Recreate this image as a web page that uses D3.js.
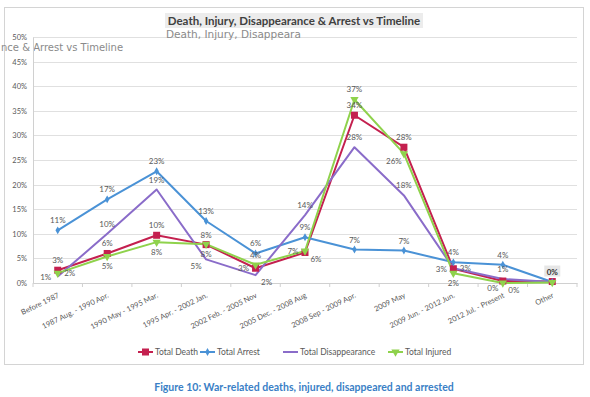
<!DOCTYPE html>
<html>
<head>
<meta charset="utf-8">
<script src="https://cdn.jsdelivr.net/npm/d3@7"></script>
<style>
  body { margin: 0; background: #fff; }
  svg { display: block; font-family: Lato, "Open Sans", sans-serif; }
</style>
</head>
<body>
<div id="chart"></div>
<script>
// categories (time periods)
const categories = ["Before 1987", "1987 Aug. - 1990 Apr.", "1990 May - 1995 Mar.", "1995 Apr. - 2002 Jan.",
  "2002 Feb. - 2005 Nov", "2005 Dec. - 2008 Aug", "2008 Sep - 2009 Apr.", "2009 May",
  "2009 Jun. - 2012 Jun.", "2012 Jul. - Present", "Other"]

// values in %
const deathPct = [2.6, 6.0, 9.7, 7.8, 3.0, 6.2, 34.1, 27.6, 2.9, 0.4, 0.3]
const arrestPct = [10.7, 17.0, 22.7, 12.6, 6.0, 9.3, 6.8, 6.6, 4.2, 3.7, 0.2]
const disappPct = [1.3, 10.0, 19.0, 4.8, 1.6, 13.8, 27.6, 17.8, 3.0, 0.8, 0.2]
const injuredPct = [2.0, 5.4, 8.3, 7.9, 3.7, 6.5, 37.3, 26.3, 2.0, 0.0, 0.1]

const yTicks = [0, 5, 10, 15, 20, 25, 30, 35, 40, 45, 50]

// where the data labels sit (t=top, b=bottom, l=left, r=right...)
const deathLbl = ["t", "t", "t", "t", "l", "br", "t", "t", "l", "bl", "box"]
const arrestLbl = ["t", "t", "t", "t", "t", "t", "t", "t", "t", "t", "none"]
const disappLbl = ["l", "t", "t", "bl", "br", "t", "t", "t", "r", "t", "none"]
const injuredLbl = ["r", "b", "b", "b", "t", "l", "t", "bl", "b", "br", "none"]

const series = [
  {name: "Total Death", values: deathPct, lbl: deathLbl, color: "#c4204f", marker: "square"},
  {name: "Total Arrest", values: arrestPct, lbl: arrestLbl, color: "#4a92d6", marker: "diamond"},
  {name: "Total Disappearance", values: disappPct, lbl: disappLbl, color: "#8a6cc9", marker: "none"},
  {name: "Total Injured", values: injuredPct, lbl: injuredLbl, color: "#8fd24c", marker: "triangle"}
]

const W = 590, H = 397
const margin = {top: 37, right: 13, bottom: 114, left: 33}

const svg = d3.select("#chart").append("svg")
  .attr("width", W).attr("height", H)

// chart frame
svg.append("rect")
  .attr("x", 4.5).attr("y", 7.5).attr("width", 579).attr("height", 357)
  .attr("fill", "#fff").attr("stroke", "#d4d4d4")

const x = d3.scaleBand().domain(categories).range([margin.left, W - margin.right])
const y = d3.scaleLinear().domain([0, 50]).range([H - margin.bottom, margin.top])
const cx = d => x(d) + x.bandwidth() / 2

// gridlines
svg.append("g").selectAll("line").data(yTicks).join("line")
  .attr("x1", margin.left).attr("x2", W - margin.right)
  .attr("y1", d => Math.round(y(d)) + 0.5).attr("y2", d => Math.round(y(d)) + 0.5)
  .attr("stroke", "#e0e0e0")

// ghost texts (artifacts of the original image)
svg.append("text").attr("x", 1).attr("y", 51).attr("font-size", 10).attr("fill", "#8a8a8a")
  .attr("font-family", "DejaVu Sans").text("nce & Arrest  vs Timeline")
svg.append("text").attr("x", 166).attr("y", 38).attr("font-size", 10.5).attr("fill", "#8a8a8a")
  .attr("font-family", "DejaVu Sans").text("Death, Injury, Disappeara")

// y axis
const yAxis = svg.append("g")
  .attr("transform", "translate(" + margin.left + ",0)")
  .call(d3.axisLeft(y).tickValues(yTicks).tickSize(0).tickPadding(6).tickFormat(d => d + "%"))
yAxis.select(".domain").attr("stroke", "#d0d0d0")
yAxis.selectAll("text").attr("font-size", 7.5).attr("fill", "#595959").attr("font-family", "Lato")

// x axis
const xAxis = svg.append("g")
  .attr("transform", "translate(0," + (H - margin.bottom) + ")")
  .call(d3.axisBottom(x).tickSize(0).tickFormat(""))
xAxis.select(".domain").attr("stroke", "#d0d0d0")
svg.append("g").selectAll("line").data(categories.concat(["end"])).join("line")
  .attr("x1", (d, i) => margin.left + i * x.bandwidth()).attr("x2", (d, i) => margin.left + i * x.bandwidth())
  .attr("y1", H - margin.bottom).attr("y2", H - margin.bottom + 4)
  .attr("stroke", "#d0d0d0")

svg.append("g").selectAll("text").data(categories).join("text")
  .attr("transform", d => "translate(" + (cx(d) + 2) + "," + (H - margin.bottom + 14) + ") rotate(-26)")
  .attr("text-anchor", "end")
  .attr("font-size", 7.5).attr("fill", "#595959")
  .text(d => d)

// title
const title = "Death, Injury, Disappearance & Arrest  vs Timeline"
svg.append("rect").attr("x", 165).attr("y", 13).attr("width", 258).attr("height", 15).attr("fill", "#ececec")
svg.append("text").attr("x", 294).attr("y", 24.5).attr("text-anchor", "middle")
  .attr("font-size", 11.5).attr("font-weight", "bold").attr("fill", "#404040").text(title)

// lines
const line = d3.line().x((d, i) => cx(categories[i])).y(d => y(d))
series.forEach(s => {
  svg.append("path").datum(s.values)
    .attr("d", line).attr("fill", "none")
    .attr("stroke", s.color).attr("stroke-width", 2).attr("stroke-linejoin", "round")
})

function drawMarker(g, type, color, px, py) {
  if (type === "square") {
    g.append("rect").attr("x", px - 3.5).attr("y", py - 3.5).attr("width", 7).attr("height", 7).attr("fill", color)
  } else if (type === "diamond") {
    g.append("path").attr("d", d3.symbol(d3.symbolDiamond, 18)()).attr("transform", "translate(" + px + "," + py + ")").attr("fill", color)
  } else if (type === "triangle") {
    g.append("path").attr("d", d3.symbol(d3.symbolTriangle, 30)()).attr("transform", "translate(" + px + "," + py + ") rotate(180)").attr("fill", color)
  }
}

const marks = svg.append("g")
series.forEach(s => {
  s.values.forEach((v, i) => drawMarker(marks, s.marker, s.color, cx(categories[i]), y(v)))
})

// data labels
const off = {t: [0, -10], b: [0, 10], l: [-12, 0], r: [12, 0], bl: [-10, 7], br: [11, 7], box: [0, -10]}
const labels = svg.append("g")
series.forEach(s => {
  s.values.forEach((v, i) => {
    const p = s.lbl[i]
    if (p === "none") return
    const lx = cx(categories[i]) + off[p][0], ly = y(v) + off[p][1]
    if (p === "box") {
      labels.append("rect").attr("x", lx - 8).attr("y", ly - 6).attr("width", 16).attr("height", 11).attr("fill", "#e6e6e6")
    }
    labels.append("text").attr("x", lx).attr("y", ly)
      .attr("text-anchor", "middle").attr("dominant-baseline", "central")
      .attr("font-size", 8).attr("fill", p === "box" ? "#333" : "#595959")
      .attr("font-weight", p === "box" ? "bold" : "normal")
      .text(Math.round(v) + "%")
  })
})

// legend
const legX = [138, 200, 283, 388]
const leg = svg.append("g")
series.forEach((s, i) => {
  const lx = legX[i], ly = 352
  leg.append("line").attr("x1", lx).attr("x2", lx + 15).attr("y1", ly).attr("y2", ly)
    .attr("stroke", s.color).attr("stroke-width", 2)
  drawMarker(leg, s.marker, s.color, lx + 7.5, ly)
  leg.append("text").attr("x", lx + 17).attr("y", ly).attr("dominant-baseline", "central")
    .attr("font-size", 8.5).attr("fill", "#595959").text(s.name)
})

// caption
svg.append("text").attr("x", 304).attr("y", 387).attr("text-anchor", "middle")
  .attr("dominant-baseline", "central")
  .attr("font-size", 10.5).attr("font-weight", "bold").attr("fill", "#3a7fc6")
  .text("Figure 10: War-related deaths, injured, disappeared and arrested")
</script>
</body>
</html>
